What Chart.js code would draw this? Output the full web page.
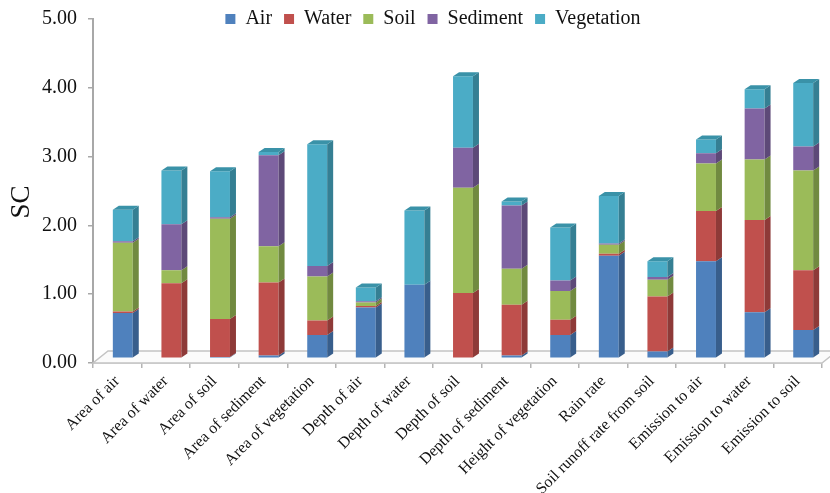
<!DOCTYPE html>
<html>
<head>
<meta charset="utf-8">
<script src="https://cdn.jsdelivr.net/npm/chart.js@4/dist/chart.umd.min.js"></script>
<style>
  html, body { margin: 0; padding: 0; background: #ffffff; }
  #wrap { width: 830px; height: 493px; position: relative; }
</style>
</head>
<body>
<div id="wrap"><canvas id="chart"></canvas></div>
<script>
// Parameters varied in the sensitivity analysis
const categories = [
  'Area of air', 'Area of water', 'Area of soil', 'Area of sediment', 'Area of vegetation',
  'Depth of air', 'Depth of water', 'Depth of soil', 'Depth of sediment', 'Height of vegetation',
  'Rain rate', 'Soil runoff rate from soil', 'Emission to air', 'Emission to water', 'Emission to soil'
];

// Sensitivity coefficient (SC) contributed by each compartment
const air        = [0.66, 0.01, 0.02, 0.04, 0.34, 0.74, 1.07, 0.00, 0.04, 0.34, 1.49, 0.10, 1.41, 0.67, 0.41];
const water      = [0.02, 1.08, 0.55, 1.06, 0.21, 0.02, 0.00, 0.95, 0.74, 0.22, 0.03, 0.80, 0.73, 1.34, 0.87];
const soil       = [1.00, 0.19, 1.46, 0.53, 0.64, 0.05, 0.00, 1.53, 0.52, 0.42, 0.13, 0.24, 0.69, 0.88, 1.45];
const sediment   = [0.02, 0.67, 0.02, 1.32, 0.15, 0.02, 0.00, 0.58, 0.92, 0.15, 0.02, 0.04, 0.15, 0.74, 0.35];
const vegetation = [0.46, 0.78, 0.67, 0.05, 1.77, 0.20, 1.08, 1.04, 0.06, 0.77, 0.69, 0.23, 0.20, 0.28, 0.92];

const seriesNames = ['Air', 'Water', 'Soil', 'Sediment', 'Vegetation'];
const yTicks = [0, 1, 2, 3, 4, 5];
const yTitle = 'SC';

const frontColors = ['#4F81BD', '#C0504D', '#9BBB59', '#8064A2', '#4BACC6'];
const sideColors  = ['#385E8C', '#8E3A38', '#718A40', '#5D4978', '#357F93'];
const topColors   = ['#3F6A9E', '#A04340', '#819C48', '#6A5388', '#3A92A8'];

const SERIF = '"Liberation Serif", "Times New Roman", serif';

// pseudo-3D geometry (pixels)
const SHIFT = { x: 5.5, y: -4.7 };   // bars stand in the middle of the floor depth
const DEPTH = { x: 6, y: -4 };       // depth of each column
const FLOOR = { x: 15, y: -12 };     // depth of the floor plane

const bar3d = {
  id: 'bar3d',
  afterLayout(chart) {
    // place the legend row in the top band of the chart
    const lg = chart.legend;
    if (lg) {
      lg.left += 22;
      lg.right += 22;
      lg.top = -3;
      lg.bottom = 40;
      lg.height = 43;
    }
  },
  beforeDatasetsDraw(chart) {
    const { ctx, chartArea: a } = chart;
    ctx.save();
    ctx.beginPath();
    ctx.moveTo(a.left, a.bottom);
    ctx.lineTo(a.right, a.bottom);
    ctx.lineTo(a.right + FLOOR.x, a.bottom + FLOOR.y);
    ctx.lineTo(a.left + FLOOR.x, a.bottom + FLOOR.y);
    ctx.closePath();
    ctx.fillStyle = '#fbfbfb';
    ctx.fill();
    ctx.strokeStyle = '#c4c4c4';
    ctx.lineWidth = 1.5;
    ctx.stroke();
    ctx.restore();
    ctx.save();
    ctx.translate(SHIFT.x, SHIFT.y);
  },
  afterDatasetsDraw(chart) {
    const ctx = chart.ctx;
    const metas = chart.getSortedVisibleDatasetMetas();
    // right-hand faces
    metas.forEach(meta => {
      ctx.fillStyle = sideColors[meta.index];
      meta.data.forEach(el => {
        const p = el.getProps(['x', 'y', 'base', 'width'], true);
        if (Math.abs(p.base - p.y) < 0.01) return;
        const r = p.x + p.width / 2;
        ctx.beginPath();
        ctx.moveTo(r, p.y);
        ctx.lineTo(r + DEPTH.x, p.y + DEPTH.y);
        ctx.lineTo(r + DEPTH.x, p.base + DEPTH.y);
        ctx.lineTo(r, p.base);
        ctx.closePath();
        ctx.fill();
      });
    });
    // top faces of each stack
    categories.forEach((c, i) => {
      let topMeta = null;
      metas.forEach(meta => {
        const v = chart.data.datasets[meta.index].data[i];
        if (v > 0) topMeta = meta;
      });
      if (!topMeta) return;
      const p = topMeta.data[i].getProps(['x', 'y', 'base', 'width'], true);
      const l = p.x - p.width / 2, r = p.x + p.width / 2;
      ctx.fillStyle = topColors[topMeta.index];
      ctx.beginPath();
      ctx.moveTo(l, p.y);
      ctx.lineTo(l + DEPTH.x, p.y + DEPTH.y);
      ctx.lineTo(r + DEPTH.x, p.y + DEPTH.y);
      ctx.lineTo(r, p.y);
      ctx.closePath();
      ctx.fill();
    });
    ctx.restore();
  },
  afterDraw(chart) {
    // value-axis title, set a little below the middle of the axis
    const { ctx, chartArea: a } = chart;
    ctx.save();
    ctx.translate(22, (a.top + a.bottom) / 2 + 11);
    ctx.rotate(-Math.PI / 2);
    ctx.font = '27px ' + SERIF;
    ctx.fillStyle = '#111';
    ctx.textAlign = 'center';
    ctx.textBaseline = 'middle';
    ctx.fillText(yTitle, 0, 0);
    ctx.restore();
  }
};

const values = [air, water, soil, sediment, vegetation];

new Chart(document.getElementById('chart'), {
  type: 'bar',
  data: {
    labels: categories,
    datasets: seriesNames.map((name, k) => ({
      label: name,
      data: values[k],
      backgroundColor: frontColors[k],
      borderWidth: 0,
      categoryPercentage: 1,
      barPercentage: 0.41
    }))
  },
  options: {
    responsive: true,
    maintainAspectRatio: false,
    animation: false,
    layout: { padding: { left: 0, right: 8, top: 0, bottom: 0 } },
    plugins: {
      tooltip: { enabled: false },
      legend: {
        position: 'top',
        maxHeight: 19,
        labels: {
          boxWidth: 10,
          boxHeight: 10,
          padding: 12,
          color: '#111',
          font: { family: SERIF, size: 20 }
        }
      }
    },
    scales: {
      x: {
        stacked: true,
        afterFit(s) { s.height = 130; },
        grid: { display: true, drawOnChartArea: false, offset: true, tickLength: 5, color: '#b4b4b4', lineWidth: 1.5 },
        border: { display: true, color: '#c4c4c4', width: 1.5 },
        ticks: {
          autoSkip: false,
          minRotation: 45,
          maxRotation: 45,
          padding: 4,
          color: '#111',
          font: { family: SERIF, size: 16 }
        }
      },
      y: {
        stacked: true,
        min: 0,
        max: 5,
        afterFit(s) {
          s.width = 93;
          s.paddingTop = 10;
          s.paddingBottom = 10;
        },
        afterBuildTicks(s) { s.ticks = yTicks.map(v => ({ value: v })); },
        grid: { display: true, drawOnChartArea: false, tickLength: 5, color: '#a8a8a8', lineWidth: 1.5 },
        border: { display: true, color: '#a8a8a8', width: 2 },
        ticks: {
          padding: 11,
          color: '#111',
          font: { family: SERIF, size: 20 },
          callback: v => Number(v).toFixed(2)
        }
      }
    }
  },
  plugins: [bar3d]
});
</script>
</body>
</html>
